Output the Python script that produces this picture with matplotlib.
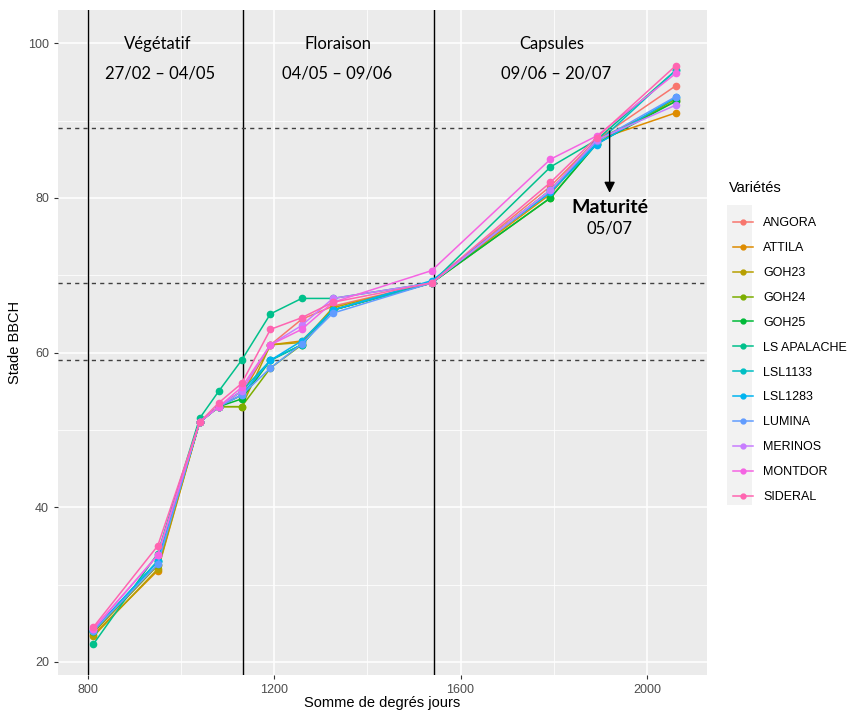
import matplotlib
matplotlib.use("Agg")
import matplotlib.pyplot as plt
from matplotlib.lines import Line2D
from matplotlib.patches import Rectangle

# Sum of degree-days at each observation date
degres = [812, 950, 1040, 1081, 1130, 1192, 1259, 1326, 1538, 1793, 1892, 2062]

varietes = ["ANGORA", "ATTILA", "GOH23", "GOH24", "GOH25", "LS APALACHE",
            "LSL1133", "LSL1283", "LUMINA", "MERINOS", "MONTDOR", "SIDERAL"]

angora = [23.8, 32.5, 51.0, 53.0, 55.0, 61.0, 64.3, 66.0, 69.0, 81.5, 87.5, 94.5]
attila = [23.5, 31.8, 51.0, 53.0, 54.5, 61.0, 61.5, 65.5, 69.0, 80.5, 87.5, 91.0]
goh23 = [23.3, 32.0, 51.0, 53.0, 53.0, 61.0, 61.3, 65.8, 69.0, 81.0, 87.5, 92.5]
goh24 = [23.8, 32.5, 51.0, 53.0, 53.0, 58.0, 61.0, 65.5, 69.0, 80.0, 87.0, 92.8]
goh25 = [24.0, 33.0, 51.0, 53.0, 54.0, 59.0, 61.0, 65.5, 69.0, 80.0, 87.0, 92.5]
ls_apalache = [22.3, 34.0, 51.5, 55.0, 59.0, 65.0, 67.0, 67.0, 69.0, 84.0, 87.5, 96.5]
lsl1133 = [24.0, 33.0, 51.0, 53.0, 55.0, 59.0, 61.0, 65.5, 69.0, 81.0, 87.0, 96.5]
lsl1283 = [24.0, 33.0, 51.0, 53.0, 54.5, 59.0, 61.5, 65.5, 69.3, 80.7, 86.9, 93.0]
lumina = [24.0, 32.6, 51.0, 53.0, 54.5, 58.0, 61.1, 65.1, 69.0, 81.0, 87.3, 93.1]
merinos = [24.2, 33.8, 51.0, 53.0, 55.0, 61.0, 63.5, 67.0, 69.0, 81.0, 87.5, 92.0]
montdor = [24.3, 33.8, 51.0, 53.0, 55.5, 61.0, 63.0, 66.5, 70.6, 85.0, 88.0, 96.1]
sideral = [24.5, 35.0, 51.0, 53.5, 56.0, 63.0, 64.5, 66.5, 69.0, 82.0, 87.8, 97.1]

series = [angora, attila, goh23, goh24, goh25, ls_apalache,
          lsl1133, lsl1283, lumina, merinos, montdor, sideral]

# ggplot default hue palette for 12 levels
couleurs = ["#F8766D", "#DE8C00", "#B79F00", "#7CAE00", "#00BA38", "#00C08B",
            "#00BFC4", "#00B4F0", "#619CFF", "#C77CFF", "#F564E3", "#FF64B0"]

# phase boundaries and BBCH thresholds
limites_phases = [800, 1133, 1543]
seuils = [59, 69, 89]

phases = ["Végétatif", "Floraison", "Capsules"]
phases_x = [950, 1336, 1795]
dates = ["27/02 \u2013 04/05", "04/05 \u2013 09/06", "09/06 \u2013 20/07"]
dates_x = [955, 1336, 1805]

plt.rcParams["font.family"] = ["Liberation Sans", "DejaVu Sans"]

fig = plt.figure(figsize=(8.47, 7.10), dpi=100)
ax = fig.add_axes([58 / 847, 1 - 675 / 710, (707 - 58) / 847, (675 - 10) / 710])
ax.set_facecolor("#EBEBEB")

# grid like ggplot
ax.set_xlim(736, 2129)
ax.set_ylim(18.3, 104.3)
ax.set_xticks([800, 1200, 1600, 2000])
ax.set_yticks([20, 40, 60, 80, 100])
ax.set_xticks([1000, 1400, 1800], minor=True)
ax.set_yticks([30, 50, 70, 90], minor=True)
ax.grid(which="major", color="white", lw=1.1)
ax.grid(which="minor", color="white", lw=0.55)
ax.set_axisbelow(True)
for s in ax.spines.values():
    s.set_visible(False)
ax.tick_params(which="major", length=3, width=0.8, color="#333333",
               labelsize=9, labelcolor="#4D4D4D")
ax.tick_params(which="minor", length=0)

for v in limites_phases:
    ax.axvline(v, color="black", lw=1.0, zorder=2)
for h in seuils:
    ax.axhline(h, color="#404040", lw=1.0, ls=(0, (3, 3)), zorder=2)

for nom, y, c in zip(varietes, series, couleurs):
    ax.plot(degres, y, color=c, lw=1.1, marker="o", markersize=4.5, zorder=3)

# phase labels
for t, x in zip(phases, phases_x):
    ax.text(x, 99.9, t, ha="center", va="center", fontsize=12, family="Lato")
for t, x in zip(dates, dates_x):
    ax.text(x, 96.1, t, ha="center", va="center", fontsize=12, family="Lato")

# maturity arrow
ax.annotate("", xy=(1920, 80.3), xytext=(1920, 89),
            arrowprops=dict(arrowstyle="-|>", color="black", lw=1.0, mutation_scale=16),
            zorder=4)
ax.text(1920, 78.7, "Maturité", ha="center", va="center", fontsize=14,
        fontweight="bold", family="Lato")
ax.text(1920, 76.1, "05/07", ha="center", va="center", fontsize=12, family="Lato")

ax.set_ylabel("Stade BBCH", fontsize=10.5, labelpad=4)
ax.set_xlabel("Somme de degrés jours", fontsize=10.5, labelpad=0)

# legend
fig.patches.append(Rectangle((727 / 847, 1 - 505 / 710), 25 / 847, 300 / 710,
                             transform=fig.transFigure, facecolor="#F2F2F2",
                             edgecolor="none", zorder=0))
fig.text(729 / 847, 1 - 188 / 710, "Variétés", fontsize=10.5, va="center", ha="left")
handles = [Line2D([], [], color=c, lw=1.1, marker="o", markersize=3.5) for c in couleurs]
leg = fig.legend(handles, varietes, loc="upper left",
                 bbox_to_anchor=(722 / 847, 1 - 206 / 710), frameon=False,
                 fontsize=9, handlelength=1.6, handletextpad=0.8,
                 labelspacing=1.03)

fig.savefig("out.png", dpi=100)
